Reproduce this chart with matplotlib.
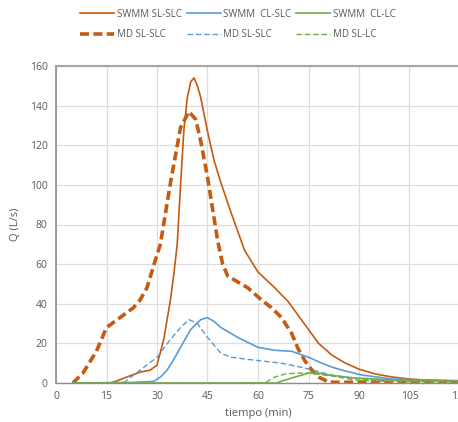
import numpy as np
import matplotlib
matplotlib.use("Agg")
import matplotlib.pyplot as plt

plt.rcParams['font.family'] = ['Open Sans', 'DejaVu Sans']

# SWMM SL-SLC
t_swmm_slslc = [5, 16, 18, 21, 25, 28, 30, 32, 34, 35, 36, 37, 38, 39, 40, 41, 42, 43, 45, 47, 49, 52, 56, 60, 65, 69, 72, 75, 78, 82, 86, 90, 95, 100, 105, 110, 115, 120]
q_swmm_slslc = [0, 0, 1, 3, 5.5, 6.5, 9, 22, 42, 55, 70, 100, 128, 144, 152, 154, 150, 144, 127, 112, 101, 86, 67, 56, 48, 41, 34, 27, 20, 14, 10, 7, 4.5, 3, 2, 1.5, 1.2, 1]

# MD SL-SLC
t_md_slslc = [5, 8, 12, 15, 19, 23, 25, 27, 29.5, 31, 34, 37, 39.5, 41.5, 43, 45, 48, 49.5, 51, 53, 57, 61, 64, 67, 70, 72, 74, 76, 78, 81, 85, 90, 100, 110, 120]
q_md_slslc = [0, 5, 16, 28, 33, 38, 42, 48, 62, 70, 101, 129, 137, 133, 122, 104, 72, 60, 54, 52, 48, 42, 38, 33, 25, 17, 11, 6.5, 3, 0.5, 0.3, 0.5, 0.3, 0.5, 0.5]

# SWMM CL-SLC
t_swmm_clslc = [5, 23, 29, 31, 33, 35, 37, 40, 43, 45, 47, 49, 54, 60, 65, 70, 75, 79, 82, 86, 91, 100, 110, 120]
q_swmm_clslc = [0, 0.3, 0.8, 3, 6.5, 12, 18, 27, 32, 33, 31, 28, 23, 18, 16.5, 16, 13, 10, 8, 6, 4, 2, 1.5, 1.2]

# MD (blue dashed)
t_md_clslc = [20, 25, 30, 34, 37, 39.5, 42, 45, 49, 52, 59, 67, 74, 82, 88, 94, 100, 110, 120]
q_md_clslc = [0, 6.5, 13, 22, 28, 32, 30, 23, 15, 13, 11.5, 10, 7.5, 4, 2.5, 1.5, 1, 1, 0.8]

# SWMM CL-LC
t_swmm_cllc = [5, 65.5, 68, 71, 75, 78, 81, 85, 89, 95, 100, 110, 120]
q_swmm_cllc = [0, 0, 1.5, 3, 5, 5, 4, 3.2, 2.5, 2, 1.5, 1.2, 1]

# MD SL-LC
t_md_sllc = [55, 62, 65, 68, 71, 75, 82, 89, 95, 100, 110, 120]
q_md_sllc = [0, 0, 3, 4.5, 5, 5, 3.5, 1.5, 1, 0.8, 0.6, 0.5]

orange = '#C55A11'
blue = '#5B9BD5'
green = '#70AD47'
txt = '#595959'

fig = plt.figure(figsize=(4.58, 4.22), dpi=100)
ax = fig.add_axes([56/458, 1-383/422, 404/458, (383-66)/422])

ax.plot(t_swmm_slslc, q_swmm_slslc, color=orange, lw=1.2, label='SWMM SL-SLC')
ax.plot(t_md_slslc, q_md_slslc, color=orange, lw=2.6, ls=(0, (2.5, 1.2)), label='MD SL-SLC')
ax.plot(t_swmm_clslc, q_swmm_clslc, color=blue, lw=1.2, label='SWMM  CL-SLC')
ax.plot(t_md_clslc, q_md_clslc, color=blue, lw=1.0, ls=(0, (4, 2)), label='MD SL-SLC')
ax.plot(t_swmm_cllc, q_swmm_cllc, color=green, lw=1.2, label='SWMM  CL-LC')
ax.plot(t_md_sllc, q_md_sllc, color=green, lw=1.0, ls=(0, (4, 2)), label='MD SL-LC')

ax.set_xlim(0, 120)
ax.set_ylim(0, 160)
ax.set_xticks(np.arange(0, 121, 15))
ax.set_yticks(np.arange(0, 161, 20))
ax.grid(True, color='#DDDDDD', lw=0.9)
ax.set_axisbelow(True)
ax.tick_params(length=0, labelsize=7.5, labelcolor=txt, pad=6)
ax.spines['right'].set_visible(False)
ax.spines['top'].set_color('#A6A6A6')
ax.spines['top'].set_linewidth(1.5)
ax.spines['left'].set_color('#8C8C8C')
ax.spines['left'].set_linewidth(1.2)
ax.spines['bottom'].set_color('#8C8C8C')
ax.spines['bottom'].set_linewidth(1.0)

ax.set_xlabel('tiempo (min)', fontsize=8, color=txt, labelpad=4)
ax.set_ylabel('Q (L/s)', fontsize=8, color=txt, labelpad=6)

fig.legend(loc='upper center', bbox_to_anchor=(238/458, 1.0), ncol=3, frameon=False,
           fontsize=7, labelcolor=txt, handlelength=3.5, handletextpad=0.3,
           columnspacing=0.5, labelspacing=1.0)

fig.savefig('out.png', dpi=100)
